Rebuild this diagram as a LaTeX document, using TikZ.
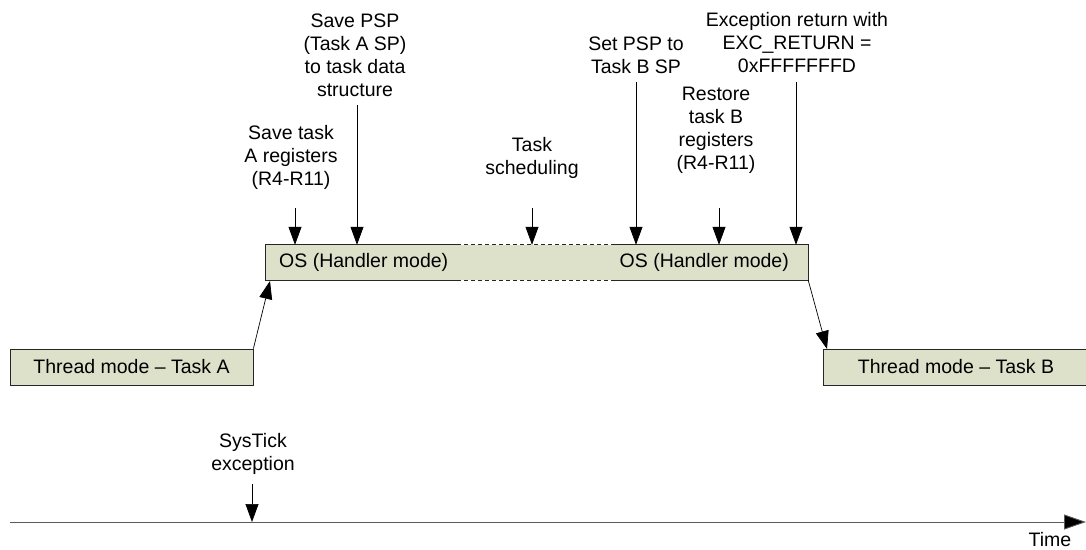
\documentclass[tikz,border=0pt]{standalone}
\usepackage{fontspec}
\setmainfont{Liberation Sans}
\usetikzlibrary{arrows.meta}
\definecolor{boxfill}{RGB}{221,225,202}
\definecolor{axisgray}{RGB}{90,90,90}
\begin{document}
\begin{tikzpicture}[x=1pt,y=-1pt,
  every node/.style={font=\fontsize{19.5}{23}\selectfont, inner sep=0pt},
  lbl/.style={align=center},
  modebox/.style={draw=black!85, line width=0.8pt, fill=boxfill, minimum height=36pt},
  arr/.style={draw=black, line width=0.7pt, -{Triangle[length=18pt,width=13pt]}},
  brd/.style={draw=black!85, line width=0.8pt},
  dsh/.style={draw=black!85, line width=0.8pt, dash pattern=on 4pt off 3pt}
]
\useasboundingbox (0,0) rectangle (1086,549);

% mode boxes
\node[modebox, minimum width=243pt] (taskA) at (131.5,367) {Thread mode -- Task A};
\node[modebox, minimum width=266pt] (taskB) at (956,367) {Thread mode -- Task B};

% OS handler box (with dashed middle part)
\node[fill=boxfill, minimum width=542pt, minimum height=35pt] (os) at (537,262.5) {};
\coordinate (d1) at (457,0);
\coordinate (d2) at (615,0);
\draw[brd] (d1 |- os.north) -- (os.north west) -- (os.south west) -- (d1 |- os.south);
\draw[brd] (d2 |- os.north) -- (os.north east) -- (os.south east) -- (d2 |- os.south);
\draw[dsh] (d1 |- os.north) -- (d2 |- os.north);
\draw[dsh] (d1 |- os.south) -- (d2 |- os.south);
\node[anchor=west] (os1) at (279,262.5) {OS (Handler mode)};
\node[anchor=east] (os2) at (789,262.5) {OS (Handler mode)};

% transitions
\coordinate (inTip) at (270,281);
\coordinate (outTip) at (827,349);
\draw[arr] (taskA.north east) -- (inTip);
\draw[arr] (os.south east) -- (outTip);

% labels above
\node[lbl] (savepsp) at (355,55) {Save PSP\\(Task A SP)\\to task data\\structure};
\node[lbl] (savetask) at (291,157) {Save task\\A registers\\(R4-R11)};
\node[lbl] (sched) at (532,157.5) {Task\\scheduling};
\node[lbl] (setpsp) at (636,55.5) {Set PSP to\\Task B SP};
\node[lbl] (excret) at (797,43) {Exception return with\\EXC\_RETURN =\\0xFFFFFFFD};
\node[lbl] (restore) at (716,130.5) {Restore\\task B\\registers\\(R4-R11)};

% arrows to OS box
\coordinate (a1) at (295,208);
\coordinate (a2) at (357,105);
\coordinate (a3) at (532,208);
\coordinate (a4) at (636,82);
\coordinate (a5) at (719,208);
\coordinate (a6) at (796,82);
\draw[arr] (a1) -- (a1 |- os.north);
\draw[arr] (a2) -- (a2 |- os.north);
\draw[arr] (a3) -- (a3 |- os.north);
\draw[arr] (a4) -- (a4 |- os.north);
\draw[arr] (a5) -- (a5 |- os.north);
\draw[arr] (a6) -- (a6 |- os.north);

% time axis
\coordinate (t0) at (10,522);
\coordinate (t1) at (1086,522);
\draw[draw=axisgray, line width=0.9pt, -{Triangle[length=22pt,width=15pt,fill=black]}] (t0) -- (t1);
\node (time) at (1050,540) {Time};

% SysTick
\node[lbl] (systick) at (253,453.5) {SysTick\\exception};
\coordinate (s0) at (252,484);
\draw[arr] (s0) -- (s0 |- t0);
\end{tikzpicture}
\end{document}
